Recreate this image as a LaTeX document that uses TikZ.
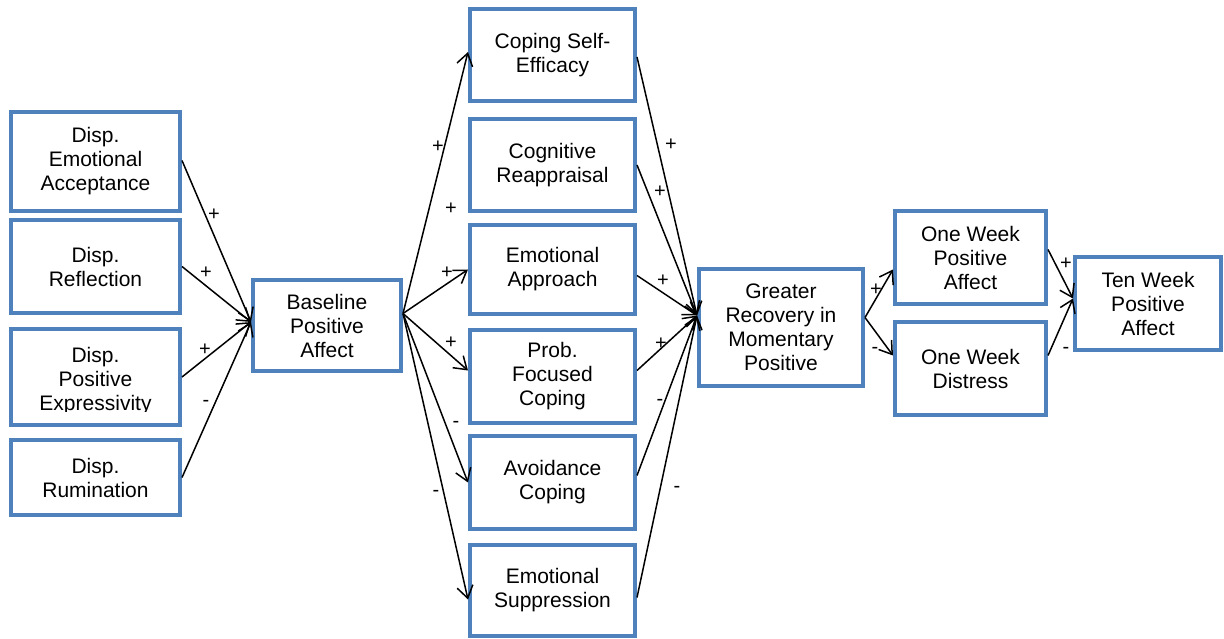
\documentclass[tikz,border=0pt]{standalone}
\usepackage{fontspec}
\setmainfont{Liberation Sans}
\usetikzlibrary{arrows.meta}
\definecolor{boxblue}{RGB}{79,129,189}
\begin{document}
\begin{tikzpicture}[x=1bp,y=-1bp,
  box/.style={draw=boxblue, line width=4bp, rectangle, inner sep=0pt, align=center,
    font=\fontsize{21bp}{24bp}\selectfont, fill=white},
  boxtext/.style={inner sep=0pt, align=center, font=\fontsize{21bp}{24bp}\selectfont},
  conn/.style={draw=black, line width=1.5bp, -{Straight Barb[length=12bp,width=16bp]}},
  sign/.style={anchor=base, inner sep=0pt, font=\fontsize{20bp}{24bp}\selectfont}
]
\useasboundingbox (0,0) rectangle (1224,639);
% left column
\node[box, minimum width=169bp, minimum height=99bp] (ea) at (95.5,161.5) {Disp.\\Emotional\\Acceptance};
\node[box, minimum width=169bp, minimum height=93bp] (re) at (95.5,266.5) {Disp.\\Reflection};
\node[box, minimum width=169bp, minimum height=96bp] (ex) at (95.5,377) {};
\begin{scope}
  \clip (ex.north west) rectangle ([yshift=16bp]ex.south east);
  \node[boxtext] (ext) at ([yshift=-4bp]ex.center) {Disp.\\Positive\\Expressivity};
\end{scope}
\node[box, minimum width=169bp, minimum height=75bp] (ru) at (95.5,477.5) {Disp.\\Rumination};
% baseline
\node[box, minimum width=148bp, minimum height=91bp] (base) at (327,325.5) {Baseline\\Positive\\Affect};
% middle column
\node[box, minimum width=165bp, minimum height=92bp] (cse) at (552.5,55) {Coping Self-\\Efficacy};
\node[box, minimum width=165bp, minimum height=92bp] (cr) at (552.5,165) {Cognitive\\Reappraisal};
\node[box, minimum width=165bp, minimum height=89bp] (eap) at (552.5,269.5) {Emotional\\Approach};
\node[box, minimum width=165bp, minimum height=93bp] (pfc) at (552.5,376.5) {Prob.\\Focused\\Coping};
\node[box, minimum width=165bp, minimum height=93bp] (av) at (552.5,482.5) {Avoidance\\Coping};
\node[box, minimum width=165bp, minimum height=91bp] (es) at (552.5,590.5) {Emotional\\Suppression};
% outcome
\node[box, minimum width=164bp, minimum height=117bp] (gr) at (781,327.5) {Greater\\Recovery in\\Momentary\\Positive};
\node[box, minimum width=151bp, minimum height=93bp] (owp) at (970.5,257.5) {One Week\\Positive\\Affect};
\node[box, minimum width=151bp, minimum height=93bp] (owd) at (970.5,368.5) {One Week\\Distress};
\node[box, minimum width=146bp, minimum height=93bp] (tw) at (1148,303.5) {Ten Week\\Positive\\Affect};
% connectors
\draw[conn] ([yshift=1bp]ea.east) -- ([yshift=3.5bp]base.west);
\draw[conn] (re.east) -- ([yshift=3.5bp]base.west);
\draw[conn] (ex.east) -- ([yshift=3.5bp]base.west);
\draw[conn] (ru.east) -- ([yshift=3.5bp]base.west);
\draw[conn] ([yshift=12bp]base.east) -- ([yshift=3bp]cse.west);
\draw[conn] ([yshift=12bp]base.east) -- (eap.west);
\draw[conn] ([yshift=12bp]base.east) -- ([yshift=6bp]pfc.west);
\draw[conn] ([yshift=12bp]base.east) -- (av.west);
\draw[conn] ([yshift=12bp]base.east) -- ([yshift=-9bp]es.west);
\draw[conn] ([yshift=-2bp]cse.east) -- ([yshift=12bp]gr.west);
\draw[conn] (cr.east) -- ([yshift=12bp]gr.west);
\draw[conn] ([yshift=-6bp]eap.east) -- ([yshift=12bp]gr.west);
\draw[conn] ([yshift=6bp]pfc.east) -- ([yshift=12bp]gr.west);
\draw[conn] ([yshift=7bp]av.east) -- ([yshift=12bp]gr.west);
\draw[conn] ([yshift=-7bp]es.east) -- ([yshift=12bp]gr.west);
\draw[conn] ([yshift=10bp]gr.east) -- ([yshift=-12bp]owp.west);
\draw[conn] ([yshift=10bp]gr.east) -- ([yshift=13bp]owd.west);
\draw[conn] ([yshift=8bp]owp.east) -- ([yshift=5bp]tw.west);
\draw[conn] ([yshift=13bp]owd.east) -- ([yshift=5bp]tw.west);
% signs
\node[sign] (s1) at (214,221) {+};
\node[sign] (s2) at (206,279) {+};
\node[sign] (s3) at (205,356) {+};
\node[sign] (s4) at (206,406) {-};
\node[sign] (s5) at (438,153) {+};
\node[sign] (s6) at (451,215) {+};
\node[sign] (s7) at (447,279) {+};
\node[sign] (s8) at (451,349) {+};
\node[sign] (s9) at (456,427) {-};
\node[sign] (s10) at (436,496) {-};
\node[sign] (s11) at (671,151) {+};
\node[sign] (s12) at (660,198) {+};
\node[sign] (s13) at (663,287) {+};
\node[sign] (s14) at (661,350) {+};
\node[sign] (s15) at (660,405) {-};
\node[sign] (s16) at (677,492) {-};
\node[sign] (s17) at (876,296) {+};
\node[sign] (s18) at (875,354) {-};
\node[sign] (s19) at (1066,270) {+};
\node[sign] (s20) at (1066,354) {-};
\end{tikzpicture}
\end{document}
